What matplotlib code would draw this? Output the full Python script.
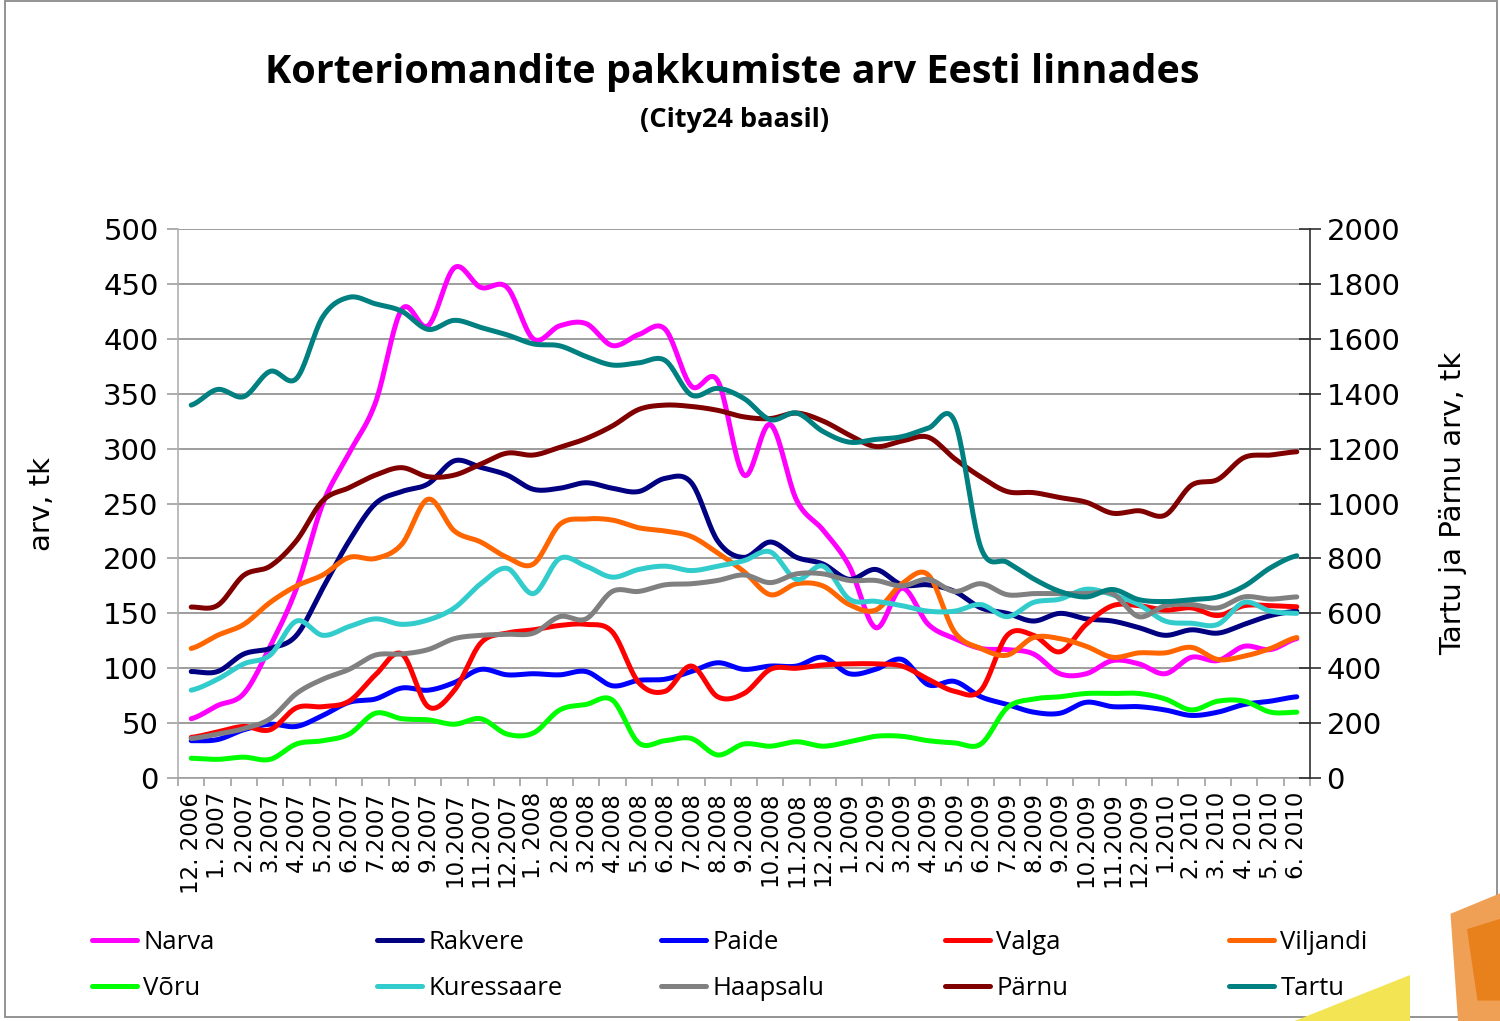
import numpy as np
import matplotlib
matplotlib.use("Agg")
import matplotlib.pyplot as plt
from matplotlib.patches import Rectangle, Polygon

# month labels, 12.2006 .. 6.2010
months = ["12. 2006", "1. 2007", "2.2007", "3.2007", "4.2007", "5.2007", "6.2007",
          "7.2007", "8.2007", "9.2007", "10.2007", "11.2007", "12.2007",
          "1. 2008", "2.2008", "3.2008", "4.2008", "5.2008", "6.2008", "7.2008",
          "8.2008", "9.2008", "10.2008", "11.2008", "12.2008",
          "1.2009", "2.2009", "3.2009", "4.2009", "5.2009", "6.2009", "7.2009",
          "8.2009", "9.2009", "10.2009", "11.2009", "12.2009",
          "1.2010", "2. 2010", "3. 2010", "4. 2010", "5. 2010", "6. 2010"]

# left axis series
narva = [54, 66, 77, 120, 173, 250, 296, 342, 427, 412, 465, 447, 447, 400, 412,
         414, 394, 404, 409, 357, 362, 276, 322, 253, 226, 193, 137, 173, 140, 127,
         118, 117, 113, 95, 95, 107, 104, 95, 110, 107, 120, 117, 127]
rakvere = [97, 97, 113, 118, 130, 173, 216, 250, 261, 268, 289, 283, 276, 263, 264,
           269, 264, 261, 273, 269, 216, 201, 215, 201, 195, 181, 190, 176, 176, 170,
           155, 150, 143, 150, 145, 143, 137, 130, 135, 132, 140, 148, 152]
paide = [34, 35, 44, 49, 47, 57, 69, 72, 82, 80, 87, 99, 94, 95, 94,
         97, 84, 89, 90, 97, 105, 99, 102, 102, 110, 95, 99, 108, 85, 88,
         74, 67, 60, 59, 69, 65, 65, 62, 57, 60, 67, 70, 74]
valga = [37, 42, 47, 44, 64, 65, 70, 94, 113, 65, 80, 123, 132, 135, 139,
         140, 133, 87, 79, 102, 74, 77, 99, 100, 103, 104, 104, 102, 90, 79,
         80, 130, 130, 115, 140, 157, 157, 153, 155, 148, 157, 157, 156]
viljandi = [118, 130, 140, 160, 175, 185, 201, 200, 213, 254, 225, 215, 201, 195, 231,
            236, 235, 228, 225, 220, 205, 188, 167, 177, 175, 158, 153, 177, 185, 133,
            118, 112, 128, 127, 120, 110, 114, 114, 119, 108, 111, 118, 128]
voru = [18, 17, 19, 17, 31, 34, 40, 59, 54, 53, 49, 54, 40, 41, 62,
        67, 71, 32, 34, 36, 21, 31, 29, 33, 29, 33, 38, 38, 34, 32,
        31, 64, 72, 74, 77, 77, 77, 72, 62, 70, 70, 60, 60]
kuressaare = [80, 90, 104, 112, 143, 130, 138, 145, 140, 144, 155, 177, 191, 168, 200,
              193, 183, 190, 193, 189, 193, 198, 206, 181, 193, 163, 161, 157, 152, 152,
              158, 147, 160, 163, 172, 167, 158, 143, 141, 140, 160, 152, 150]
haapsalu = [36, 40, 45, 54, 77, 90, 99, 112, 113, 117, 127, 130, 131, 132, 147,
            145, 170, 170, 176, 177, 180, 185, 178, 186, 186, 180, 180, 175, 181, 170,
            177, 167, 168, 168, 168, 168, 147, 157, 158, 155, 165, 163, 165]

# right axis series (Tartu ja Pärnu)
parnu = [623, 629, 739, 772, 865, 1011, 1058, 1104, 1131, 1098, 1104, 1144, 1184, 1177, 1205,
         1237, 1283, 1343, 1359, 1354, 1340, 1316, 1310, 1330, 1301, 1250, 1208, 1228, 1242, 1164,
         1097, 1044, 1040, 1022, 1005, 965, 974, 958, 1067, 1088, 1168, 1177, 1189]
tartu = [1359, 1416, 1390, 1482, 1456, 1681, 1752, 1728, 1701, 1635, 1668, 1642, 1615, 1582, 1575,
         1536, 1505, 1513, 1522, 1396, 1420, 1383, 1306, 1330, 1263, 1224, 1234, 1244, 1275, 1300,
         839, 786, 726, 680, 660, 687, 650, 643, 650, 660, 699, 766, 810]

left_series = [("Narva", narva, "#FF00FF"), ("Rakvere", rakvere, "#000080"),
               ("Paide", paide, "#0000FF"), ("Valga", valga, "#FF0000"),
               ("Viljandi", viljandi, "#FF6600"), ("Võru", voru, "#00FF00"),
               ("Kuressaare", kuressaare, "#33CCCC"), ("Haapsalu", haapsalu, "#808080")]
right_series = [("Pärnu", parnu, "#800000"), ("Tartu", tartu, "#008080")]


def smooth(vals, n=20):
    # Catmull-Rom curve through the points, like Excel's smoothed line
    y = np.asarray(vals, float)
    p = np.concatenate([[y[0]], y, [y[-1]]])
    xs, ys = [], []
    t = np.linspace(0, 1, n, endpoint=False)
    for i in range(len(y) - 1):
        p0, p1, p2, p3 = p[i], p[i + 1], p[i + 2], p[i + 3]
        seg = 0.5 * (2 * p1 + (-p0 + p2) * t + (2 * p0 - 5 * p1 + 4 * p2 - p3) * t ** 2
                     + (-p0 + 3 * p1 - 3 * p2 + p3) * t ** 3)
        xs.extend(i + t)
        ys.extend(seg)
    xs.append(len(y) - 1)
    ys.append(y[-1])
    return np.array(xs), np.array(ys)


fig = plt.figure(figsize=(15, 10.21), dpi=100)
ax = fig.add_axes([0.1187, 0.238, 0.7546, 0.5375])
ax2 = ax.twinx()

lw = 3.6
handles = {}
for name, vals, col in left_series:
    x, y = smooth(vals)
    ln, = ax.plot(x, y, color=col, lw=lw, solid_capstyle="round", label=name)
    handles[name] = ln
for name, vals, col in right_series:
    x, y = smooth(vals)
    ln, = ax2.plot(x, y, color=col, lw=lw, solid_capstyle="round", label=name)
    handles[name] = ln

ax.set_xlim(-0.5, len(months) - 0.5)
ax.set_ylim(0, 500)
ax2.set_ylim(0, 2000)
ax.set_yticks(np.arange(0, 501, 50))
ax2.set_yticks(np.arange(0, 2001, 200))

ax.grid(axis="y", color="#8c8c8c", lw=1.2)
ax.set_axisbelow(True)

ax.set_xticks(np.arange(len(months)))
ax.set_xticklabels(months, rotation=90, va="top", ha="center", fontsize=16.5,
                   family="DejaVu Sans")
ax.set_xticks(np.arange(-0.5, len(months), 1), minor=True)
ax.tick_params(axis="x", which="major", length=0, pad=10)
ax.tick_params(axis="x", which="minor", length=6, color="#a0a0a0", width=1.2)
ax.tick_params(axis="y", length=8, color="#a0a0a0", width=1.2, labelsize=21, pad=6)
ax2.tick_params(axis="y", direction="inout", length=16, color="#303030", width=1.2,
                labelsize=21, pad=4)

for s in ["top", "right"]:
    ax.spines[s].set_visible(False)
ax.spines["left"].set_color("#b0b0b0")
ax.spines["bottom"].set_color("#a0a0a0")
for s in ["top", "left", "bottom"]:
    ax2.spines[s].set_visible(False)
ax2.spines["right"].set_color("#303030")
ax2.spines["right"].set_linewidth(1.2)
for sp in ["left", "bottom"]:
    ax.spines[sp].set_linewidth(1.2)

ax.set_ylabel("arv, tk", fontsize=21, labelpad=34)
ax2.set_ylabel("Tartu ja Pärnu arv, tk", fontsize=21, labelpad=28)

fig.text(0.488, 0.929, "Korteriomandite pakkumiste arv Eesti linnades", ha="center",
         va="center", fontsize=28.5, fontweight="bold", family="Open Sans")
fig.text(0.49, 0.882, "(City24 baasil)", ha="center", va="center", fontsize=19.5,
         fontweight="bold", family="Open Sans")

# legend: five columns, two rows each
columns = [("Narva", "Võru"), ("Rakvere", "Kuressaare"), ("Paide", "Haapsalu"),
           ("Valga", "Pärnu"), ("Viljandi", "Tartu")]
col_x = [0.0613, 0.2513, 0.4407, 0.63, 0.8193]
for names, cx in zip(columns, col_x):
    fig.legend([handles[k] for k in names], names, loc="center left",
               bbox_to_anchor=(cx, 0.0545), frameon=False,
               prop={"family": "Open Sans", "size": 18.5}, handlelength=1.75,
               handletextpad=0.25, labelspacing=0.8, borderpad=0, borderaxespad=0)

# outer frame and logo corner
fig.patches.append(Rectangle((0.003, 0.004), 0.995, 0.995, transform=fig.transFigure,
                             fill=False, ec="#8a8a8a", lw=1.3))
fig.patches.append(Polygon([(0.863, 0.0), (0.94, 0.045), (0.94, 0.0)],
                           transform=fig.transFigure, fc="#F2E452", ec="none"))
fig.patches.append(Polygon([(0.967, 0.105), (1.0, 0.125), (1.0, 0.0), (0.972, 0.0)],
                           transform=fig.transFigure, fc="#EFA055", ec="none"))
fig.patches.append(Polygon([(0.978, 0.09), (1.0, 0.1), (1.0, 0.02), (0.985, 0.02)],
                           transform=fig.transFigure, fc="#E8801C", ec="none"))

fig.savefig("out.png", dpi=100)
